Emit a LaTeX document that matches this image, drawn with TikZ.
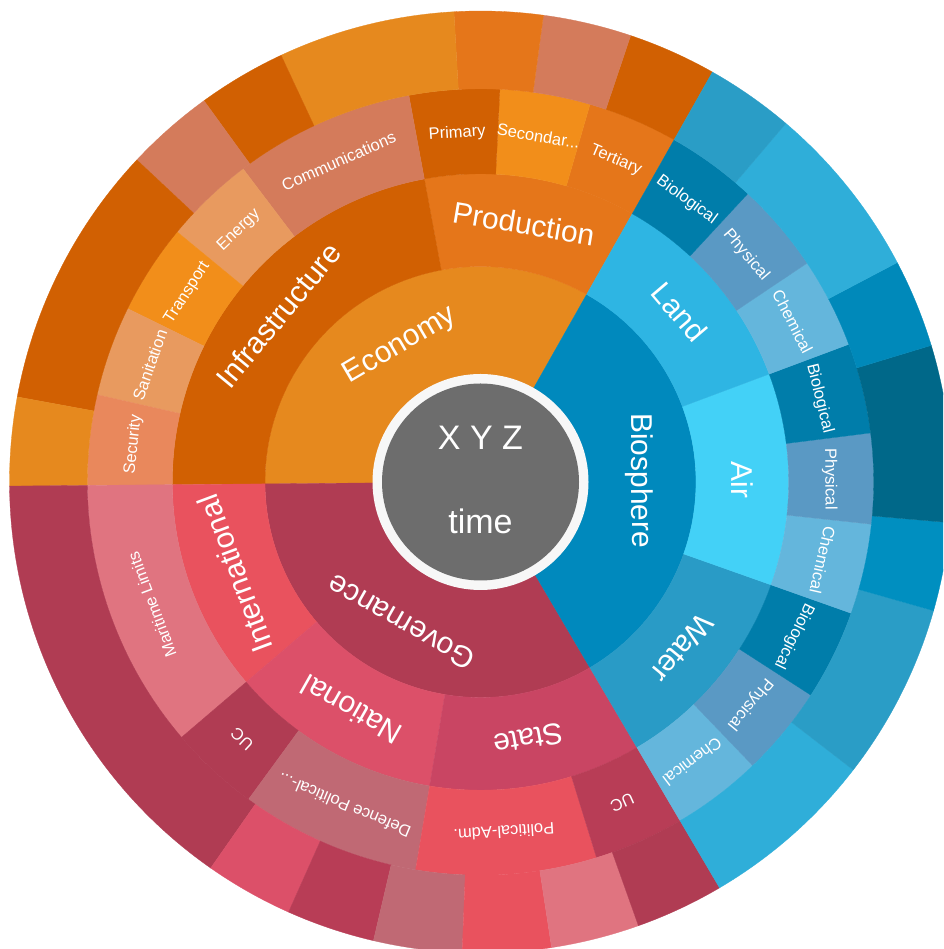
\documentclass[tikz,border=0pt]{standalone}
\usepackage{fontspec}
\setmainfont{Liberation Sans}

% palette
\definecolor{econ}{HTML}{E6891E}
\definecolor{infra}{HTML}{D16002}
\definecolor{prod}{HTML}{E5761A}
\definecolor{salmon}{HTML}{D47B5B}
\definecolor{peach}{HTML}{E89A5F}
\definecolor{secur}{HTML}{E9885C}
\definecolor{brightor}{HTML}{F28E1A}
\definecolor{bio}{HTML}{0089BD}
\definecolor{land}{HTML}{2EB5E3}
\definecolor{air}{HTML}{43D1F7}
\definecolor{water}{HTML}{299BC6}
\definecolor{biol}{HTML}{007DAA}
\definecolor{phys}{HTML}{5A99C4}
\definecolor{chem}{HTML}{64B6DC}
\definecolor{blueA}{HTML}{2A9DC6}
\definecolor{blueB}{HTML}{2FAED9}
\definecolor{blueC}{HTML}{0089BA}
\definecolor{blueD}{HTML}{006889}
\definecolor{blueE}{HTML}{008FC0}
\definecolor{gov}{HTML}{B03C53}
\definecolor{intl}{HTML}{E9525E}
\definecolor{natl}{HTML}{DC5069}
\definecolor{state}{HTML}{C94563}
\definecolor{marit}{HTML}{E07480}
\definecolor{defn}{HTML}{C06974}
\definecolor{ucst}{HTML}{B83D56}
\definecolor{hub}{HTML}{6D6D6D}
\definecolor{hubring}{HTML}{F7F7F7}

% annular sector: colour, inner radius, outer radius, start angle, end angle
\newcommand{\ringseg}[5]{%
  \fill[#1, draw=#1, line width=0.3pt] (#4:#2pt) arc[start angle=#4, end angle=#5, radius=#2pt]
    -- (#5:#3pt) arc[start angle=#5, end angle=#4, radius=#3pt] -- cycle;}

% label on a sector: name, radius, start angle, end angle, style, text
\newcommand{\seglabel}[6]{%
  \pgfmathsetmacro\midA{(#3+#4)/2}%
  \pgfmathsetmacro\rotA{\midA-90}%
  \node[lbl, #5, rotate=\rotA] (#1) at (\midA:#2pt) {#6};}

\begin{document}
\begin{tikzpicture}[x=1pt,y=1pt,
  lbl/.style={text=white, inner sep=0pt, anchor=center},
  big/.style={font=\fontsize{30}{36}\selectfont, text height=21pt, text depth=0pt},
  small/.style={font=\fontsize{16.5}{20}\selectfont, text height=11.5pt, text depth=0pt},
  hubtext/.style={text=white, inner sep=0pt, anchor=base, font=\fontsize{34}{40}\selectfont}]

\useasboundingbox (0,0) rectangle (943,949);
\clip (0,0) rectangle (943,949);
\fill[white] (0,0) rectangle (943,949);

\begin{scope}[shift={(480.5,467)}]
  % ---- ring 1 ----
  \ringseg{econ}{100}{215.5}{60.5}{180.5}
  \ringseg{gov}{100}{215.5}{180.5}{300.5}
  \ringseg{bio}{100}{215.5}{-59.5}{60.5}

  % ---- ring 2 ----
  \ringseg{prod}{215.5}{308.2}{60.5}{100.5}
  \ringseg{infra}{215.5}{308.2}{100.5}{180.5}
  \ringseg{intl}{215.5}{308.2}{180.5}{220.5}
  \ringseg{natl}{215.5}{308.2}{220.5}{260.5}
  \ringseg{state}{215.5}{308.2}{260.5}{300.5}
  \ringseg{water}{215.5}{308.2}{-59.5}{-19.5}
  \ringseg{air}{215.5}{308.2}{-19.5}{20.5}
  \ringseg{land}{215.5}{308.2}{20.5}{60.5}

  % ---- ring 3 ----
  \ringseg{prod}{308.2}{393.2}{60.5}{73.83}
  \ringseg{brightor}{308.2}{393.2}{73.83}{87.17}
  \ringseg{infra}{308.2}{393.2}{87.17}{100.5}
  \ringseg{salmon}{308.2}{393.2}{100.5}{127.17}
  \ringseg{peach}{308.2}{393.2}{127.17}{140.5}
  \ringseg{brightor}{308.2}{393.2}{140.5}{153.83}
  \ringseg{peach}{308.2}{393.2}{153.83}{167.17}
  \ringseg{secur}{308.2}{393.2}{167.17}{180.5}
  \ringseg{marit}{308.2}{393.2}{180.5}{220.5}
  \ringseg{gov}{308.2}{393.2}{220.5}{233.83}
  \ringseg{defn}{308.2}{393.2}{233.83}{260.5}
  \ringseg{intl}{308.2}{393.2}{260.5}{287.17}
  \ringseg{ucst}{308.2}{393.2}{287.17}{300.5}
  \ringseg{chem}{308.2}{393.2}{-59.5}{-46.17}
  \ringseg{phys}{308.2}{393.2}{-46.17}{-32.83}
  \ringseg{biol}{308.2}{393.2}{-32.83}{-19.5}
  \ringseg{chem}{308.2}{393.2}{-19.5}{-6.17}
  \ringseg{phys}{308.2}{393.2}{-6.17}{7.17}
  \ringseg{biol}{308.2}{393.2}{7.17}{20.5}
  \ringseg{chem}{308.2}{393.2}{20.5}{33.83}
  \ringseg{phys}{308.2}{393.2}{33.83}{47.17}
  \ringseg{biol}{308.2}{393.2}{47.17}{60.5}

  % ---- ring 4 ----
  \ringseg{infra}{393.2}{471}{60.5}{71.41}
  \ringseg{salmon}{393.2}{471}{71.41}{82.32}
  \ringseg{prod}{393.2}{471}{82.32}{93.23}
  \ringseg{econ}{393.2}{471}{93.23}{115.05}
  \ringseg{infra}{393.2}{471}{115.05}{125.95}
  \ringseg{salmon}{393.2}{471}{125.95}{136.86}
  \ringseg{infra}{393.2}{471}{136.86}{169.59}
  \ringseg{econ}{393.2}{471}{169.59}{180.5}
  \ringseg{gov}{393.2}{471}{180.5}{235.05}
  \ringseg{natl}{393.2}{471}{235.05}{245.95}
  \ringseg{ucst}{393.2}{471}{245.95}{256.86}
  \ringseg{defn}{393.2}{471}{256.86}{267.77}
  \ringseg{intl}{393.2}{471}{267.77}{278.68}
  \ringseg{marit}{393.2}{471}{278.68}{289.59}
  \ringseg{gov}{393.2}{471}{289.59}{300.5}
  \ringseg{blueB}{393.2}{471}{-59.5}{-37.68}
  \ringseg{blueA}{393.2}{471}{-37.68}{-15.86}
  \ringseg{blueE}{393.2}{471}{-15.86}{-4.95}
  \ringseg{blueD}{393.2}{471}{-4.95}{16.86}
  \ringseg{blueC}{393.2}{471}{16.86}{27.77}
  \ringseg{blueB}{393.2}{471}{27.77}{49.59}
  \ringseg{blueA}{393.2}{471}{49.59}{60.5}

  % ---- hub ----
  \fill[hubring] (0,0) circle[radius=108pt];
  \fill[hub] (0,0) circle[radius=98.5pt];
  \node[hubtext] (xyz) at (0,32) {X Y Z};
  \node[hubtext] (time) at (0,-52) {time};

  % ---- labels, ring 1 ----
  \seglabel{economy}{161.75}{60.5}{180.5}{big}{Economy}
  \seglabel{governance}{161.75}{180.5}{300.5}{big}{Governance}
  \seglabel{biosphere}{161.75}{-59.5}{60.5}{big}{Biosphere}

  % ---- labels, ring 2 ----
  \seglabel{production}{261.85}{60.5}{100.5}{big}{Production}
  \seglabel{infrastructure}{261.85}{100.5}{180.5}{big}{Infrastructure}
  \seglabel{international}{261.85}{180.5}{220.5}{big}{International}
  \seglabel{national}{261.85}{220.5}{260.5}{big}{National}
  \seglabel{stateL}{261.85}{260.5}{300.5}{big}{State}
  \seglabel{waterL}{261.85}{-59.5}{-19.5}{big}{Water}
  \seglabel{airL}{261.85}{-19.5}{20.5}{big}{Air}
  \seglabel{landL}{261.85}{20.5}{60.5}{big}{Land}

  % ---- labels, ring 3 ----
  \seglabel{tertiary}{350.7}{60.5}{73.83}{small}{Tertiary}
  \seglabel{secondary}{350.7}{73.83}{87.17}{small}{Secondar...}
  \seglabel{primary}{350.7}{87.17}{100.5}{small}{Primary}
  \seglabel{communications}{350.7}{100.5}{127.17}{small}{Communications}
  \seglabel{energy}{350.7}{127.17}{140.5}{small}{Energy}
  \seglabel{transport}{350.7}{140.5}{153.83}{small}{Transport}
  \seglabel{sanitation}{350.7}{153.83}{167.17}{small}{Sanitation}
  \seglabel{security}{350.7}{167.17}{180.5}{small}{Security}
  \seglabel{maritime}{350.7}{180.5}{220.5}{small}{Maritime Limits}
  \seglabel{ucA}{350.7}{220.5}{233.83}{small}{UC}
  \seglabel{defence}{350.7}{233.83}{260.5}{small}{Defence Political-...}
  \seglabel{politadm}{350.7}{260.5}{287.17}{small}{Political-Adm.}
  \seglabel{ucB}{350.7}{287.17}{300.5}{small}{UC}
  \seglabel{wChem}{350.7}{-59.5}{-46.17}{small}{Chemical}
  \seglabel{wPhys}{350.7}{-46.17}{-32.83}{small}{Physical}
  \seglabel{wBio}{350.7}{-32.83}{-19.5}{small}{Biological}
  \seglabel{aChem}{350.7}{-19.5}{-6.17}{small}{Chemical}
  \seglabel{aPhys}{350.7}{-6.17}{7.17}{small}{Physical}
  \seglabel{aBio}{350.7}{7.17}{20.5}{small}{Biological}
  \seglabel{lChem}{350.7}{20.5}{33.83}{small}{Chemical}
  \seglabel{lPhys}{350.7}{33.83}{47.17}{small}{Physical}
  \seglabel{lBio}{350.7}{47.17}{60.5}{small}{Biological}
\end{scope}
\end{tikzpicture}
\end{document}
